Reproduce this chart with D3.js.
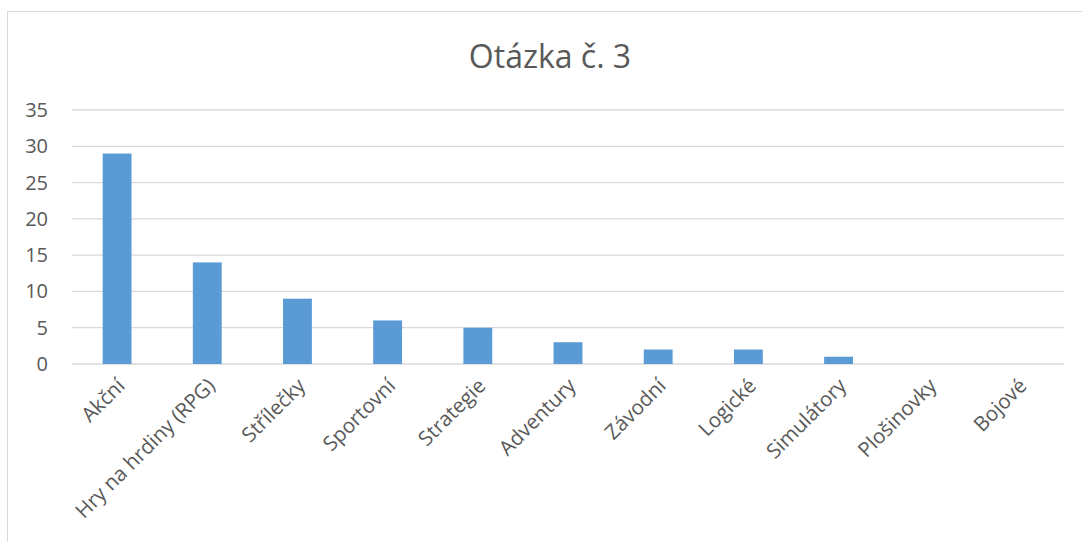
<!DOCTYPE html>
<html>
<head>
<meta charset="utf-8">
<script src="https://cdn.jsdelivr.net/npm/d3@7"></script>
<style>
  body { margin: 0; background: #fff; }
  text { font-family: "Open Sans", sans-serif; fill: #595959; }
</style>
</head>
<body>
<div id="chart"></div>
<script>
// DATA
const categories = ['Akční', 'Hry na hrdiny (RPG)', 'Střílečky', 'Sportovní', 'Strategie',
    'Adventury', 'Závodní', 'Logické', 'Simulátory', 'Plošinovky', 'Bojové'];
const values = [29, 14, 9, 6, 5, 3, 2, 2, 1, 0, 0];
const yTicks = [0, 5, 10, 15, 20, 25, 30, 35];
const title = 'Otázka č. 3';

const W = 1082, H = 542;
const margin = { top: 110, right: 18, bottom: 178, left: 72 };

const svg = d3.select('#chart').append('svg').attr('width', W).attr('height', H);

// chart frame
svg.append('rect')
    .attr('x', 7.5).attr('y', 11.5)
    .attr('width', W + 10).attr('height', H + 10)
    .attr('fill', 'none').attr('stroke', '#d9d9d9').attr('stroke-width', 1);

const x = d3.scaleBand().domain(categories)
    .range([margin.left, W - margin.right])
    .paddingInner(0.68).paddingOuter(0.34);
const y = d3.scaleLinear().domain([0, 35]).range([H - margin.bottom, margin.top]);

// gridlines
svg.append('g').selectAll('line').data(yTicks).enter().append('line')
    .attr('x1', margin.left).attr('x2', W - margin.right)
    .attr('y1', d => y(d)).attr('y2', d => y(d))
    .attr('stroke', '#d9d9d9').attr('stroke-width', 1.3);

// y labels
svg.append('g').selectAll('text').data(yTicks).enter().append('text')
    .attr('x', 48).attr('y', d => y(d))
    .attr('dy', '0.35em')
    .attr('text-anchor', 'end')
    .style('font-size', '20px')
    .text(d => d);

// bars
svg.append('g').selectAll('rect').data(values).enter().append('rect')
    .attr('x', (d, i) => x(categories[i]))
    .attr('width', x.bandwidth())
    .attr('y', d => y(d))
    .attr('height', d => y(0) - y(d))
    .attr('fill', '#5b9bd5');

// x labels
svg.append('g').selectAll('text').data(categories).enter().append('text')
    .attr('transform', d => 'translate(' + (x(d) + x.bandwidth() / 2 + 4) + ',' + (y(0) + 18) + ') rotate(-45)')
    .attr('text-anchor', 'end')
    .attr('dy', '0.35em')
    .style('font-size', '20.5px')
    .text(d => d);

// title
svg.append('text')
    .attr('x', 550).attr('y', 68)
    .attr('text-anchor', 'middle')
    .style('font-size', '32px')
    .text(title);
</script>
</body>
</html>
